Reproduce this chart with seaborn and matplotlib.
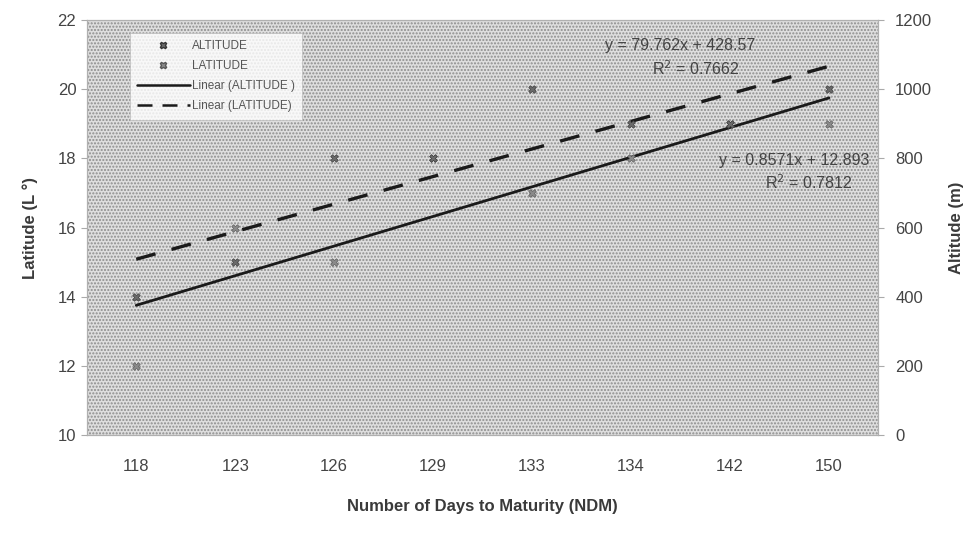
import numpy as np
import pandas as pd
import matplotlib
matplotlib.use("Agg")
import matplotlib.pyplot as plt
import seaborn as sns
from matplotlib.lines import Line2D

sns.set_style("white")
plt.rcParams['font.family'] = ['Liberation Sans', 'DejaVu Sans']

# Data
ndm = ['118', '123', '126', '129', '133', '134', '142', '150']
altitude = [400, 500, 800, 800, 1000, 900, 900, 1000]   # m (right axis)
latitude = [12, 16, 15, 18, 17, 18, 19, 19]              # degrees (left axis)

df = pd.DataFrame({'pos': np.arange(len(ndm)), 'NDM': ndm,
                   'ALTITUDE': altitude, 'LATITUDE': latitude})

fig = plt.figure(figsize=(9.75, 5.45), dpi=100)
ax = fig.add_axes([0.089, 0.202, 0.812, 0.761])
ax2 = ax.twinx()

# dotted grey plot area
ax.set_facecolor('#dedede')
ax.patch.set_hatch('.....')
ax.patch.set_edgecolor('#8c8c8c')
ax.patch.set_linewidth(0)

# trend lines
sns.regplot(data=df, x='pos', y='LATITUDE', ax=ax, scatter=False, ci=None,
            color='#1a1a1a', line_kws={'lw': 2.0, 'ls': '-'})
sns.regplot(data=df, x='pos', y='ALTITUDE', ax=ax2, scatter=False, ci=None,
            color='#1a1a1a', line_kws={'lw': 2.4, 'ls': (0, (6, 5))})

# points
sns.scatterplot(data=df, x='pos', y='LATITUDE', ax=ax, marker='X', s=30,
                color='#8a8a8a', edgecolor='#555555', linewidth=0.4, zorder=5)
sns.scatterplot(data=df, x='pos', y='ALTITUDE', ax=ax2, marker='X', s=30,
                color='#6a6a6a', edgecolor='#333333', linewidth=0.4, zorder=5)

ax.set_xlim(-0.5, len(ndm) - 0.5)
ax.set_ylim(10, 22)
ax.set_yticks(range(10, 23, 2))
ax2.set_ylim(0, 1200)
ax2.set_yticks(range(0, 1201, 200))
ax.set_xticks(df['pos'])
ax.set_xticklabels(ndm)
ax.set_xticks(np.arange(-0.5, len(ndm)), minor=True)
ax.tick_params(axis='x', which='major', length=0, pad=17)
ax.tick_params(axis='x', which='minor', length=4, color='#aaaaaa')

for a in (ax, ax2):
    a.tick_params(axis='y', length=4, color='#aaaaaa', labelsize=12, labelcolor='#444444')
    for s in a.spines.values():
        s.set_color('#b0b0b0')
        s.set_linewidth(0.8)
ax.tick_params(axis='x', labelsize=12, labelcolor='#444444')
ax.tick_params(axis='y', left=True)
ax2.tick_params(axis='y', right=True, pad=8)

ax.set_xlabel('Number of Days to Maturity (NDM)', fontsize=12, fontweight='bold',
              color='#3a3a3a', labelpad=18)
ax.set_ylabel('Latitude (L °)', fontsize=12, fontweight='bold', color='#3a3a3a', labelpad=14)
ax2.set_ylabel('Altitude (m)', fontsize=12, fontweight='bold', color='#3a3a3a', labelpad=12)

# trend equations
eq_kw = dict(ha='center', va='center', fontsize=11.5, color='#444444')
ax.text(5.5, 21.28, 'y = 79.762x + 428.57', **eq_kw)
ax.text(5.65, 20.61, 'R$^2$ = 0.7662', **eq_kw)
ax.text(6.65, 17.95, 'y = 0.8571x + 12.893', **eq_kw)
ax.text(6.8, 17.29, 'R$^2$ = 0.7812', **eq_kw)

handles = [
    Line2D([], [], ls='none', marker='X', ms=5, mfc='#6a6a6a', mec='#333333'),
    Line2D([], [], ls='none', marker='X', ms=5, mfc='#8a8a8a', mec='#555555'),
    Line2D([], [], color='#1a1a1a', lw=1.8),
    Line2D([], [], color='#1a1a1a', lw=1.8, ls=(0, (6, 4))),
]
labels = ['ALTITUDE', 'LATITUDE', 'Linear (ALTITUDE )', 'Linear (LATITUDE)']
leg = ax.legend(handles, labels, loc='upper left', bbox_to_anchor=(0.054, 0.97),
                fontsize=8.5, frameon=True, fancybox=False, handlelength=4.5,
                handletextpad=0.2, labelspacing=0.7, borderpad=0.6,
                borderaxespad=0, labelcolor='#555555')
leg.get_frame().set_facecolor('white')
leg.get_frame().set_edgecolor('#bbbbbb')
leg.get_frame().set_linewidth(0.6)
leg.set_zorder(10)

fig.savefig('out.png', dpi=100)
